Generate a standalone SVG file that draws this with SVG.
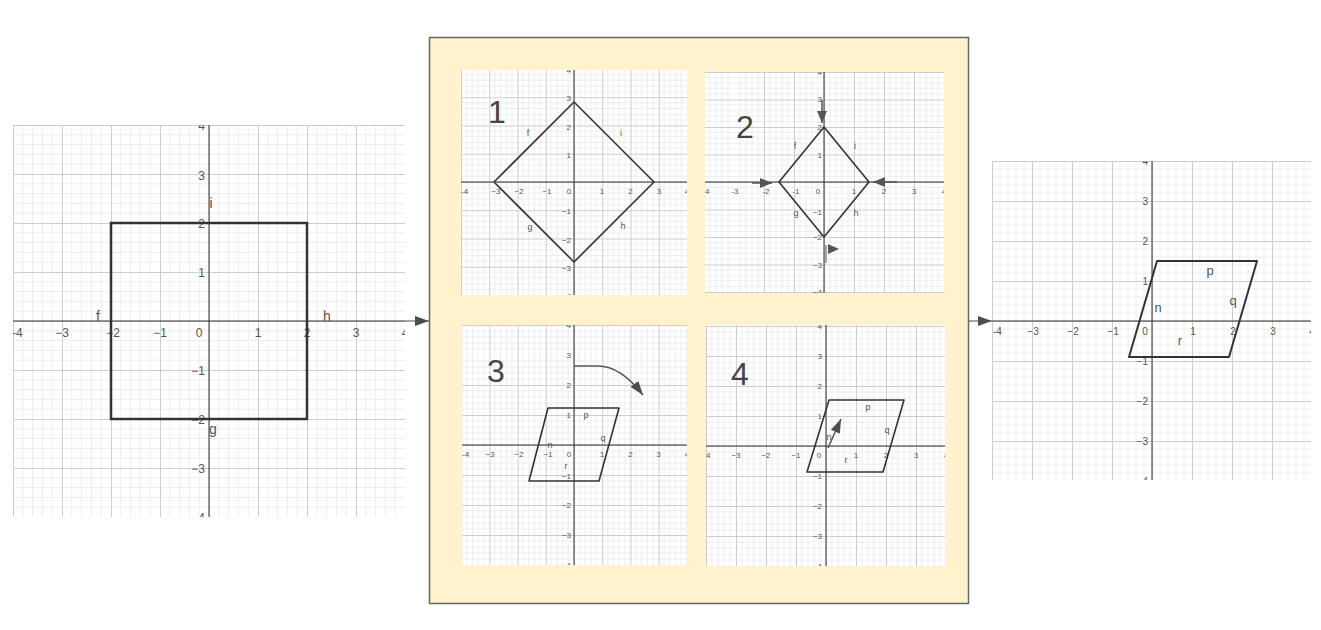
<svg xmlns="http://www.w3.org/2000/svg" width="1321" height="630" viewBox="0 0 1321 630">
<style>
.mi{stroke:#ededed;stroke-width:1;fill:none}
.ma{stroke:#cdcdcd;stroke-width:1;fill:none}
.ax{stroke:#333;stroke-width:1;fill:none}
.sh{stroke:#333;stroke-width:1.6;fill:none;stroke-linejoin:round}
text{font-family:"Liberation Sans",Arial,sans-serif;fill:#555}
.t12{font-size:12px}.t8{font-size:8px}.t10{font-size:10px}
.m{text-anchor:middle}.e{text-anchor:end}
.sl{font-size:9px;fill:#444}
.big{font-size:32px;fill:#454545}
.pa{stroke:#555;stroke-width:1.5;fill:none}
.con{stroke:#666;stroke-width:1.2;fill:none}
</style>
<defs>
<marker id="ah" markerUnits="userSpaceOnUse" markerWidth="14" markerHeight="10" refX="14" refY="5" orient="auto"><path d="M0,0L14,5L0,10z" fill="#4d4d4d"/></marker>
<marker id="ahs" markerUnits="userSpaceOnUse" markerWidth="12" markerHeight="10" refX="12" refY="5" orient="auto"><path d="M0,0L12,5L0,10z" fill="#555"/></marker>
<pattern id="p0" patternUnits="userSpaceOnUse" x="209" y="321" width="49" height="49"><path class="mi" d="M9.8,0V49M19.6,0V49M29.4,0V49M39.2,0V49M0,9.8H49M0,19.6H49M0,29.4H49M0,39.2H49"/><path class="ma" d="M0.5,0V49M0,0.5H49"/></pattern>
<pattern id="p1" patternUnits="userSpaceOnUse" x="574" y="182" width="28.25" height="28.25"><path class="mi" d="M5.65,0V29M11.3,0V29M16.95,0V29M22.6,0V29M0,5.65H29M0,11.3H29M0,16.95H29M0,22.6H29"/><path class="ma" d="M0.5,0V29M0,0.5H29"/></pattern>
<pattern id="p2" patternUnits="userSpaceOnUse" x="824" y="182" width="30" height="27.5"><path class="mi" d="M6,0V28M12,0V28M18,0V28M24,0V28M0,5.5H30M0,11H30M0,16.5H30M0,22H30"/><path class="ma" d="M0.5,0V28M0,0.5H30"/></pattern>
<pattern id="p3" patternUnits="userSpaceOnUse" x="574" y="445" width="28.2" height="30"><path class="mi" d="M5.64,0V30M11.28,0V30M16.92,0V30M22.56,0V30M0,6H29M0,12H29M0,18H29M0,24H29"/><path class="ma" d="M0.5,0V30M0,0.5H29"/></pattern>
<pattern id="p4" patternUnits="userSpaceOnUse" x="826" y="446" width="30" height="30"><path class="mi" d="M6,0V30M12,0V30M18,0V30M24,0V30M0,6H30M0,12H30M0,18H30M0,24H30"/><path class="ma" d="M0.5,0V30M0,0.5H30"/></pattern>
<pattern id="p5" patternUnits="userSpaceOnUse" x="1152" y="321" width="40" height="40"><path class="mi" d="M8,0V40M16,0V40M24,0V40M32,0V40M0,8H40M0,16H40M0,24H40M0,32H40"/><path class="ma" d="M0.5,0V40M0,0.5H40"/></pattern>
<clipPath id="c0"><rect x="13" y="125" width="392" height="392"/></clipPath>
<clipPath id="c1"><rect x="461" y="70" width="226" height="225"/></clipPath>
<clipPath id="c2"><rect x="705" y="72" width="239" height="221"/></clipPath>
<clipPath id="c3"><rect x="462" y="325" width="225" height="240"/></clipPath>
<clipPath id="c4"><rect x="706" y="325" width="239" height="241"/></clipPath>
<clipPath id="c5"><rect x="992" y="161" width="319" height="319"/></clipPath>
</defs>
<rect width="1321" height="630" fill="#fff"/>

<g id="panel-box"><rect x="429.5" y="37.5" width="539" height="566" fill="#fff2cc" stroke="#666" stroke-width="1.5"/></g>

<g id="graph-original" clip-path="url(#c0)">
<rect x="13" y="125" width="392" height="392" fill="#fff"/>
<rect x="13" y="125" width="392" height="392" fill="url(#p0)"/>
<path class="ax" d="M13,321H405M209,125V517"/>
<g class="t12">
<text x="12" y="337">-4</text><text class="m" x="62" y="337">−3</text><text class="m" x="113" y="337">−2</text><text class="m" x="160" y="337">−1</text><text class="m" x="199" y="337">0</text><text class="m" x="258" y="337">1</text><text class="m" x="307" y="337">2</text><text class="m" x="356" y="337">3</text><text class="m" x="405" y="337">4</text>
<text class="e" x="205" y="130">4</text><text class="e" x="205" y="180">3</text><text class="e" x="205" y="228">2</text><text class="e" x="205" y="277">1</text><text class="e" x="205" y="375">−1</text><text class="e" x="205" y="424">−2</text><text class="e" x="205" y="473">−3</text><text class="e" x="205" y="522">−4</text>
</g>
<rect x="111" y="223" width="196" height="196" stroke="#333" stroke-width="2.5" fill="none"/>
<g style="font-size:14px;fill:#444"><text class="m" x="98" y="321">f</text><text class="m" x="327" y="321">h</text><text class="m" x="211" y="208">i</text><text class="m" x="213" y="434">g</text></g>
</g>

<g id="graph-1" clip-path="url(#c1)">
<rect x="461" y="70" width="226" height="225" fill="#fff"/>
<rect x="461" y="70" width="226" height="225" fill="url(#p1)"/>
<path class="ax" d="M461,182H687M574,70V295"/>
<g class="t8">
<text x="461" y="194">-4</text><text class="m" x="496" y="194">−3</text><text class="m" x="519" y="194">−2</text><text class="m" x="547" y="194">−1</text><text class="m" x="569" y="194">0</text><text class="m" x="602" y="194">1</text><text class="m" x="630.5" y="194">2</text><text class="m" x="659" y="194">3</text><text class="m" x="687" y="194">4</text>
<text class="e" x="571" y="73">4</text><text class="e" x="571" y="101">3</text><text class="e" x="571" y="129.5">2</text><text class="e" x="571" y="158">1</text><text class="e" x="571" y="214">−1</text><text class="e" x="571" y="242.5">−2</text><text class="e" x="571" y="271">−3</text><text class="e" x="571" y="299">−4</text>
</g>
<polygon class="sh" points="494,182 574,102 654,182 574,262"/>
<g class="sl"><text class="m" x="528" y="136">f</text><text class="m" x="621" y="136">i</text><text class="m" x="530" y="230">g</text><text class="m" x="623" y="229">h</text></g>
<text class="big m" x="497" y="123">1</text>
</g>

<g id="graph-2" clip-path="url(#c2)">
<rect x="705" y="72" width="239" height="221" fill="#fff"/>
<rect x="705" y="72" width="239" height="221" fill="url(#p2)"/>
<path class="ax" d="M705,182H944M824,72V293"/>
<g class="t8">
<text x="705" y="194">4</text><text class="m" x="735" y="194">-3</text><text class="m" x="766" y="194">-2</text><text class="m" x="796" y="194">-1</text><text class="m" x="818" y="194">0</text><text class="m" x="854" y="194">1</text><text class="m" x="884" y="194">2</text><text class="m" x="914" y="194">3</text><text class="m" x="944" y="194">4</text>
<text class="e" x="822" y="75">4</text><text class="e" x="822" y="102">3</text><text class="e" x="822" y="130">2</text><text class="e" x="822" y="157.5">1</text><text class="e" x="822" y="215">−1</text><text class="e" x="822" y="240">−2</text><text class="e" x="822" y="267.5">−3</text><text class="e" x="822" y="295">−4</text>
</g>
<polygon class="sh" points="779,182 824,127 869,182 824,237"/>
<g class="sl"><text class="m" x="795" y="149">f</text><text class="m" x="855" y="149">i</text><text class="m" x="796" y="216">g</text><text class="m" x="856" y="216">h</text></g>
<text class="big m" x="745" y="138">2</text>
<g id="g2-arrows">
<path class="pa" d="M822,100V123" marker-end="url(#ahs)"/>
<path class="pa" d="M752,183H772" marker-end="url(#ahs)"/>
<path class="pa" d="M897,182H873" marker-end="url(#ahs)"/>
<path d="M826,245V263" stroke="#888" stroke-width="1.5"/>
<path d="M828,244L839,249L828,254z" fill="#555"/>
</g>
</g>

<g id="graph-3" clip-path="url(#c3)">
<rect x="462" y="325" width="225" height="240" fill="#fff"/>
<rect x="462" y="325" width="225" height="240" fill="url(#p3)"/>
<path class="ax" d="M462,445H687M574,325V565"/>
<g class="t8">
<text x="462" y="457">-4</text><text class="m" x="490" y="457">−3</text><text class="m" x="519" y="457">−2</text><text class="m" x="548" y="457">−1</text><text class="m" x="569" y="457">0</text><text class="m" x="602" y="457">1</text><text class="m" x="630.4" y="457">2</text><text class="m" x="658.6" y="457">3</text><text class="m" x="687" y="457">4</text>
<text class="e" x="571" y="328">4</text><text class="e" x="571" y="358">3</text><text class="e" x="571" y="388">2</text><text class="e" x="571" y="418">1</text><text class="e" x="571" y="479">−1</text><text class="e" x="571" y="508">−2</text><text class="e" x="571" y="538">−3</text><text class="e" x="571" y="568">−4</text>
</g>
<polygon class="sh" points="548,408 619,408 599,481 529,481"/>
<g class="sl"><text class="m" x="586" y="418">p</text><text class="m" x="603" y="441">q</text><text class="m" x="550" y="448">n</text><text class="m" x="566" y="469">r</text></g>
<text class="big m" x="496" y="382">3</text>
<path class="pa" d="M574,366L598,366C614,366 629,377 643,395" marker-end="url(#ah)"/>
</g>

<g id="graph-4" clip-path="url(#c4)">
<rect x="706" y="325" width="239" height="241" fill="#fff"/>
<rect x="706" y="325" width="239" height="241" fill="url(#p4)"/>
<path class="ax" d="M706,446H945M826,325V566"/>
<g class="t8">
<text x="706" y="458">4</text><text class="m" x="736" y="458">−3</text><text class="m" x="766" y="458">−2</text><text class="m" x="796" y="458">−1</text><text class="m" x="819" y="458">0</text><text class="m" x="856" y="458">1</text><text class="m" x="886" y="458">2</text><text class="m" x="916" y="458">3</text><text class="m" x="946" y="458">4</text>
<text class="e" x="822" y="329">4</text><text class="e" x="822" y="359">3</text><text class="e" x="822" y="389">2</text><text class="e" x="822" y="419">1</text><text class="e" x="822" y="479">−1</text><text class="e" x="822" y="509">−2</text><text class="e" x="822" y="539">−3</text><text class="e" x="822" y="569">−4</text>
</g>
<polygon class="sh" points="829,400 904,400 883,472 807,472"/>
<g class="sl"><text class="m" x="868" y="410">p</text><text class="m" x="887" y="433">q</text><text class="m" x="829" y="440">n</text><text class="m" x="846" y="463">r</text></g>
<text class="big m" x="740" y="385">4</text>
<path class="pa" d="M828,448L841,419" marker-end="url(#ah)"/>
</g>

<g id="graph-result" clip-path="url(#c5)">
<rect x="992" y="161" width="319" height="319" fill="#fff"/>
<rect x="992" y="161" width="319" height="319" fill="url(#p5)"/>
<path class="ax" d="M992,321H1311M1152,161V480"/>
<g class="t10">
<text x="993" y="335">-4</text><text class="m" x="1033" y="335">−3</text><text class="m" x="1073" y="335">−2</text><text class="m" x="1113" y="335">−1</text><text class="m" x="1145" y="335">0</text><text class="m" x="1193" y="335">1</text><text class="m" x="1233" y="335">2</text><text class="m" x="1273" y="335">3</text><text class="m" x="1312" y="335">4</text>
<text class="e" x="1148" y="165">4</text><text class="e" x="1148" y="205">3</text><text class="e" x="1148" y="245">2</text><text class="e" x="1148" y="285">1</text><text class="e" x="1148" y="365">−1</text><text class="e" x="1148" y="405">−2</text><text class="e" x="1148" y="445">−3</text><text class="e" x="1148" y="485">−4</text>
</g>
<polygon class="sh" style="stroke-width:2" points="1157,261 1257,261 1229,357 1129,357"/>
<g style="font-size:13px;fill:#444"><text class="m" x="1210" y="275">p</text><text class="m" x="1233" y="305">q</text><text class="m" x="1158" y="312">n</text><text class="m" x="1180" y="345">r</text></g>
</g>

<g id="connectors">
<path class="con" d="M405,321H429" marker-end="url(#ah)"/>
<path class="con" d="M969,321H992" marker-end="url(#ah)"/>
</g>
</svg>
